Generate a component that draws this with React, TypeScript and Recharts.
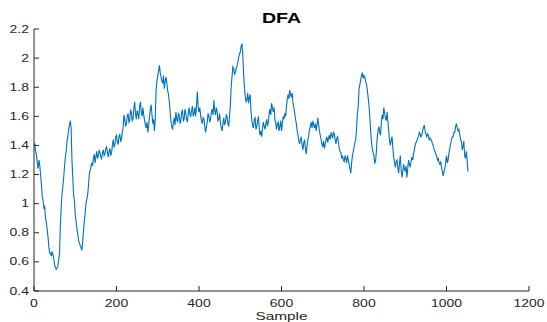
import React from 'react';
import { LineChart, Line, XAxis, YAxis } from 'recharts';

// DFA series, one value every 2 samples (sample 0 .. 1052)
const sampleStep = 2;
const dfaValues = [
  1.40, 1.41, 1.36, 1.33, 1.28, 1.24, 1.30, 1.26, 1.20, 1.13,
  1.05, 1.02, 0.97, 0.98, 0.90, 0.87, 0.82, 0.77, 0.70, 0.66,
  0.66, 0.64, 0.67, 0.65, 0.62, 0.58, 0.56, 0.55, 0.56, 0.57,
  0.62, 0.66, 0.86, 0.98, 1.07, 1.12, 1.18, 1.26, 1.32, 1.36,
  1.43, 1.46, 1.51, 1.54, 1.57, 1.52, 1.30, 1.18, 1.06, 1.02,
  0.92, 0.88, 0.83, 0.79, 0.75, 0.73, 0.71, 0.70, 0.68, 0.74,
  0.82, 0.88, 0.93, 1.00, 1.03, 1.06, 1.12, 1.20, 1.23, 1.25,
  1.28, 1.26, 1.31, 1.34, 1.28, 1.32, 1.36, 1.31, 1.33, 1.37,
  1.35, 1.32, 1.31, 1.35, 1.37, 1.33, 1.34, 1.38, 1.39, 1.35,
  1.32, 1.36, 1.38, 1.33, 1.35, 1.40, 1.44, 1.39, 1.40, 1.46,
  1.47, 1.42, 1.41, 1.46, 1.48, 1.43, 1.44, 1.49, 1.52, 1.61,
  1.58, 1.53, 1.55, 1.60, 1.62, 1.56, 1.57, 1.64, 1.63, 1.57,
  1.58, 1.65, 1.70, 1.62, 1.58, 1.64, 1.62, 1.58, 1.67, 1.70,
  1.63, 1.60, 1.66, 1.61, 1.57, 1.54, 1.52, 1.56, 1.49, 1.54,
  1.60, 1.65, 1.68, 1.61, 1.55, 1.58, 1.50, 1.59, 1.78, 1.84,
  1.88, 1.91, 1.95, 1.90, 1.87, 1.84, 1.83, 1.88, 1.79, 1.84,
  1.87, 1.83, 1.78, 1.75, 1.70, 1.63, 1.57, 1.53, 1.51, 1.56,
  1.59, 1.54, 1.63, 1.58, 1.56, 1.62, 1.61, 1.55, 1.57, 1.63,
  1.64, 1.57, 1.58, 1.65, 1.62, 1.58, 1.56, 1.62, 1.66, 1.61,
  1.60, 1.64, 1.67, 1.60, 1.62, 1.66, 1.60, 1.68, 1.77, 1.66,
  1.63, 1.66, 1.60, 1.57, 1.55, 1.59, 1.58, 1.53, 1.49, 1.53,
  1.56, 1.62, 1.60, 1.56, 1.58, 1.63, 1.65, 1.61, 1.71, 1.64,
  1.61, 1.66, 1.63, 1.57, 1.58, 1.62, 1.55, 1.52, 1.50, 1.55,
  1.59, 1.54, 1.56, 1.61, 1.60, 1.55, 1.53, 1.60, 1.68, 1.80,
  1.87, 1.94, 1.93, 1.89, 1.90, 1.93, 1.94, 1.97, 2.00, 2.03,
  2.04, 2.08, 2.10, 2.03, 1.90, 1.80, 1.74, 1.70, 1.71, 1.76,
  1.69, 1.73, 1.75, 1.64, 1.57, 1.54, 1.52, 1.58, 1.59, 1.51,
  1.53, 1.57, 1.60, 1.52, 1.47, 1.50, 1.46, 1.52, 1.56, 1.53,
  1.51, 1.55, 1.58, 1.53, 1.56, 1.62, 1.65, 1.61, 1.69, 1.66,
  1.63, 1.66, 1.58, 1.55, 1.51, 1.55, 1.56, 1.50, 1.53, 1.57,
  1.50, 1.55, 1.60, 1.58, 1.62, 1.60, 1.67, 1.72, 1.75, 1.72,
  1.78, 1.75, 1.73, 1.76, 1.69, 1.66, 1.62, 1.58, 1.55, 1.50,
  1.47, 1.43, 1.41, 1.44, 1.46, 1.40, 1.37, 1.42, 1.44, 1.38,
  1.34, 1.40, 1.44, 1.47, 1.51, 1.53, 1.56, 1.52, 1.57, 1.54,
  1.52, 1.55, 1.50, 1.54, 1.59, 1.54, 1.50, 1.47, 1.44, 1.41,
  1.39, 1.43, 1.38, 1.41, 1.44, 1.46, 1.42, 1.45, 1.47, 1.44,
  1.49, 1.47, 1.45, 1.49, 1.48, 1.44, 1.41, 1.45, 1.46, 1.42,
  1.38, 1.36, 1.35, 1.31, 1.33, 1.30, 1.29, 1.33, 1.31, 1.28,
  1.33, 1.30, 1.27, 1.24, 1.21, 1.28, 1.33, 1.36, 1.39, 1.42,
  1.44, 1.52, 1.62, 1.67, 1.79, 1.82, 1.85, 1.88, 1.90, 1.86,
  1.88, 1.87, 1.84, 1.82, 1.78, 1.73, 1.68, 1.60, 1.50, 1.43,
  1.38, 1.35, 1.33, 1.28, 1.29, 1.36, 1.45, 1.50, 1.53, 1.49,
  1.47, 1.56, 1.61, 1.58, 1.66, 1.62, 1.59, 1.57, 1.63, 1.56,
  1.50, 1.43, 1.40, 1.44, 1.46, 1.38, 1.32, 1.28, 1.25, 1.29,
  1.30, 1.25, 1.21, 1.28, 1.33, 1.24, 1.18, 1.22, 1.27, 1.24,
  1.22, 1.26, 1.18, 1.24, 1.30, 1.27, 1.25, 1.29, 1.32, 1.30,
  1.34, 1.37, 1.40, 1.42, 1.43, 1.45, 1.46, 1.49, 1.48, 1.46,
  1.47, 1.50, 1.52, 1.54, 1.50, 1.48, 1.46, 1.48, 1.47, 1.44,
  1.45, 1.44, 1.43, 1.41, 1.40, 1.37, 1.36, 1.34, 1.33, 1.30,
  1.31, 1.28, 1.27, 1.29, 1.25, 1.22, 1.19, 1.22, 1.24, 1.28,
  1.33, 1.28, 1.30, 1.35, 1.38, 1.41, 1.44, 1.46, 1.46, 1.49,
  1.49, 1.53, 1.55, 1.52, 1.50, 1.51, 1.48, 1.44, 1.43, 1.37,
  1.39, 1.43, 1.33, 1.31, 1.36, 1.30, 1.22,
];

const xTicks = [0, 200, 400, 600, 800, 1000, 1200];
const yTicks = [0.4, 0.6, 0.8, 1, 1.2, 1.4, 1.6, 1.8, 2, 2.2];
const titleText = 'DFA';
const xLabelText = 'Sample';

const data = dfaValues.map((v, i) => ({ sample: i * sampleStep, dfa: v }));

const FONT = '"Liberation Sans", Arial, Helvetica, sans-serif';
const AXIS = '#262626';
const STRETCH = 1.4;
const TICK_LEN = 5;

const BottomTick = (props: any) => {
  const { x, y, payload } = props;
  return (
    <g>
      <line x1={x} y1={y} x2={x} y2={y - TICK_LEN} stroke={AXIS} strokeWidth={1} />
      <text
        transform={`translate(${x},${y + 16}) scale(${STRETCH},1)`}
        textAnchor="middle"
        fontFamily={FONT}
        fontSize={10}
        fill={AXIS}
      >
        {payload.value}
      </text>
    </g>
  );
};

const TopTick = (props: any) => {
  const { x, y } = props;
  return <line x1={x} y1={y} x2={x} y2={y + TICK_LEN} stroke={AXIS} strokeWidth={1} />;
};

const LeftTick = (props: any) => {
  const { x, y, payload } = props;
  return (
    <g>
      <line x1={x} y1={y} x2={x + TICK_LEN} y2={y} stroke={AXIS} strokeWidth={1} />
      <text
        transform={`translate(${x - 5},${y + 3.5}) scale(${STRETCH},1)`}
        textAnchor="end"
        fontFamily={FONT}
        fontSize={10}
        fill={AXIS}
      >
        {payload.value}
      </text>
    </g>
  );
};

const RightTick = (props: any) => {
  const { x, y } = props;
  return <line x1={x} y1={y} x2={x - TICK_LEN} y2={y} stroke={AXIS} strokeWidth={1} />;
};

export default function App() {
  const W = 547;
  const H = 322;
  const left = 34;
  const right = 529;
  return (
    <div style={{ position: 'absolute', left: 0, top: 0, width: W, height: H, background: '#fff' }}>
      <LineChart
        width={W}
        height={H}
        data={data}
        margin={{ top: 29, right: W - right, bottom: 0, left: 0 }}
      >
        <XAxis
          xAxisId="bottom"
          dataKey="sample"
          type="number"
          domain={[0, 1200]}
          ticks={xTicks}
          interval={0}
          height={31}
          tickSize={0}
          tickMargin={0}
          tickLine={false}
          axisLine={{ stroke: AXIS, strokeWidth: 1 }}
          tick={<BottomTick />}
        />
        <XAxis
          xAxisId="top"
          orientation="top"
          dataKey="sample"
          type="number"
          domain={[0, 1200]}
          ticks={xTicks}
          interval={0}
          height={0}
          tickSize={0}
          tickMargin={0}
          tickLine={false}
          axisLine={{ stroke: AXIS, strokeWidth: 1 }}
          tick={<TopTick />}
        />
        <YAxis
          yAxisId="left"
          type="number"
          domain={[0.4, 2.2]}
          ticks={yTicks}
          interval={0}
          width={left}
          tickSize={0}
          tickMargin={0}
          tickLine={false}
          axisLine={{ stroke: AXIS, strokeWidth: 1 }}
          tick={<LeftTick />}
        />
        <YAxis
          yAxisId="right"
          orientation="right"
          type="number"
          domain={[0.4, 2.2]}
          ticks={yTicks}
          interval={0}
          width={0}
          tickSize={0}
          tickMargin={0}
          tickLine={false}
          axisLine={{ stroke: AXIS, strokeWidth: 1 }}
          tick={<RightTick />}
        />
        <Line
          xAxisId="bottom"
          yAxisId="left"
          type="linear"
          dataKey="dfa"
          stroke="#0072BD"
          strokeWidth={1.1}
          dot={false}
          activeDot={false}
          isAnimationActive={false}
        />
        <text
          transform={`translate(${(left + right) / 2},23) scale(${STRETCH},1)`}
          textAnchor="middle"
          fontFamily={FONT}
          fontSize={14}
          fontWeight="bold"
          fill="#000"
        >
          {titleText}
        </text>
        <text
          transform={`translate(${(left + right) / 2},320) scale(${STRETCH},1)`}
          textAnchor="middle"
          fontFamily={FONT}
          fontSize={11}
          fill={AXIS}
        >
          {xLabelText}
        </text>
      </LineChart>
    </div>
  );
}
